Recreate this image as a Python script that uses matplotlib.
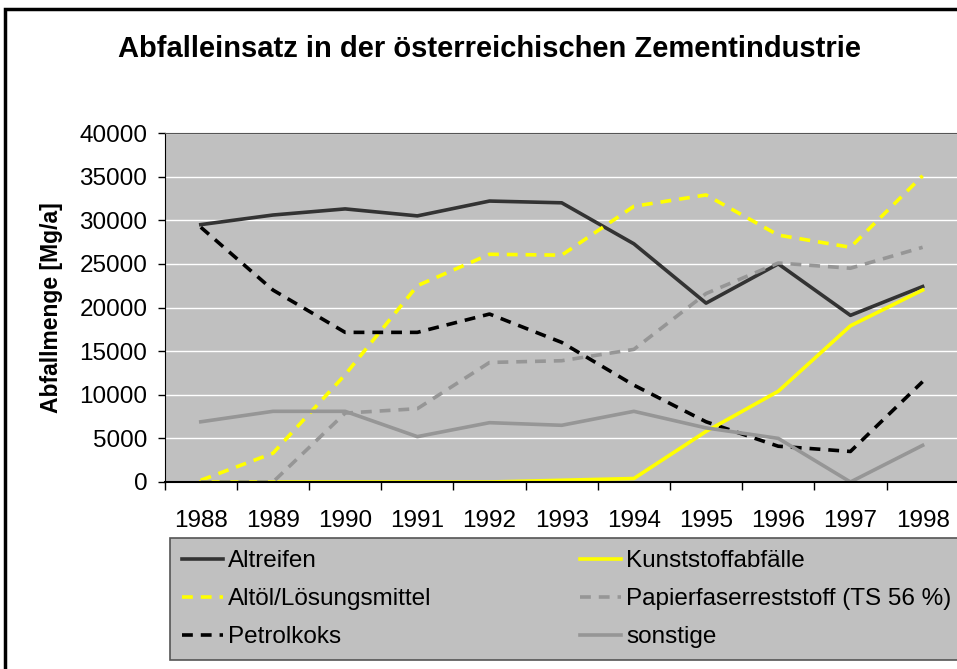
import matplotlib.pyplot as plt
from matplotlib.patches import Rectangle

plt.rcParams['font.family'] = ['Liberation Sans', 'DejaVu Sans']

years = ["1988", "1989", "1990", "1991", "1992", "1993", "1994", "1995", "1996", "1997", "1998"]
altreifen = [29500, 30600, 31300, 30500, 32200, 32000, 27300, 20500, 25000, 19100, 22400]
kunststoff = [0, 0, 0, 0, 0, 200, 400, 5800, 10400, 17900, 22000]
altoel = [200, 3300, 12300, 22500, 26100, 26000, 31600, 32900, 28300, 26900, 35100]
papier = [0, 0, 7900, 8400, 13700, 13900, 15200, 21600, 25100, 24500, 26900]
petrolkoks = [29200, 22000, 17150, 17150, 19250, 16000, 11100, 6900, 4100, 3500, 11500]
sonstige = [6900, 8100, 8100, 5200, 6800, 6500, 8100, 6200, 5000, 0, 4200]

W, H = 957, 669
fig = plt.figure(figsize=(W / 100, H / 100), dpi=100)
# outer chart frame (cropped at right and bottom in the original)
fig.patches.append(Rectangle((5 / W, -0.05), 1.1, 1.05 - 9 / H,
                             transform=fig.transFigure, fill=False,
                             edgecolor="black", linewidth=2.5))

ax = fig.add_axes([164.7 / W, 1 - 482 / H, 794 / W, 349 / H])
ax.set_facecolor("#C0C0C0")
x = list(range(len(years)))

lw = 2.6
dash = (3, 2.2)
ax.plot(x, altreifen, color="#333333", lw=lw, label="Altreifen")
ax.plot(x, altoel, color="#FFFF00", lw=lw, dashes=dash, label="Altöl/Lösungsmittel")
ax.plot(x, petrolkoks, color="black", lw=lw, dashes=dash, label="Petrolkoks")
ax.plot(x, kunststoff, color="#FFFF00", lw=lw, label="Kunststoffabfälle")
ax.plot(x, papier, color="#969696", lw=lw, dashes=dash, label="Papierfaserreststoff (TS 56 %)")
ax.plot(x, sonstige, color="#969696", lw=lw, label="sonstige")

ax.set_xlim(-0.5, len(years) - 0.5)
ax.set_ylim(0, 40000)
ax.set_yticks(range(0, 40001, 5000))
ax.yaxis.grid(True, color="white", lw=1)
ax.set_axisbelow(True)
ax.set_xticks(x)
ax.set_xticklabels(years)
ax.set_xticks([i - 0.5 for i in range(len(years) + 1)], minor=True)
ax.tick_params(axis="x", which="major", length=0, pad=20, labelsize=17.5)
ax.tick_params(axis="x", which="minor", length=6, width=1, direction="out")
ax.tick_params(axis="y", length=5, width=1, labelsize=17.5, pad=7.5)
for s in ["top", "right"]:
    ax.spines[s].set_color("#555555")
ax.spines["left"].set_color("black")
ax.spines["bottom"].set_color("black")
ax.spines["bottom"].set_linewidth(1.5)

ax.set_ylabel("Abfallmenge [Mg/a]", fontsize=16.5, fontweight="bold", labelpad=12)

fig.text(490 / W, 1 - 49 / H, "Abfalleinsatz in der österreichischen Zementindustrie",
         ha="center", va="center", fontsize=21, fontweight="bold")

leg = fig.legend(*ax.get_legend_handles_labels(), ncol=2, loc="upper left",
                 bbox_to_anchor=(170 / W, 1 - 538 / H),
                 frameon=True, fancybox=False, framealpha=1, fontsize=17.5,
                 handlelength=1.7, handletextpad=0.2, borderaxespad=0,
                 labelspacing=0.66, borderpad=0.5, columnspacing=6.1)
leg.get_frame().set_facecolor("#C0C0C0")
leg.get_frame().set_edgecolor("#555555")
leg.get_frame().set_linewidth(1.2)

fig.savefig("out.png", dpi=100)
